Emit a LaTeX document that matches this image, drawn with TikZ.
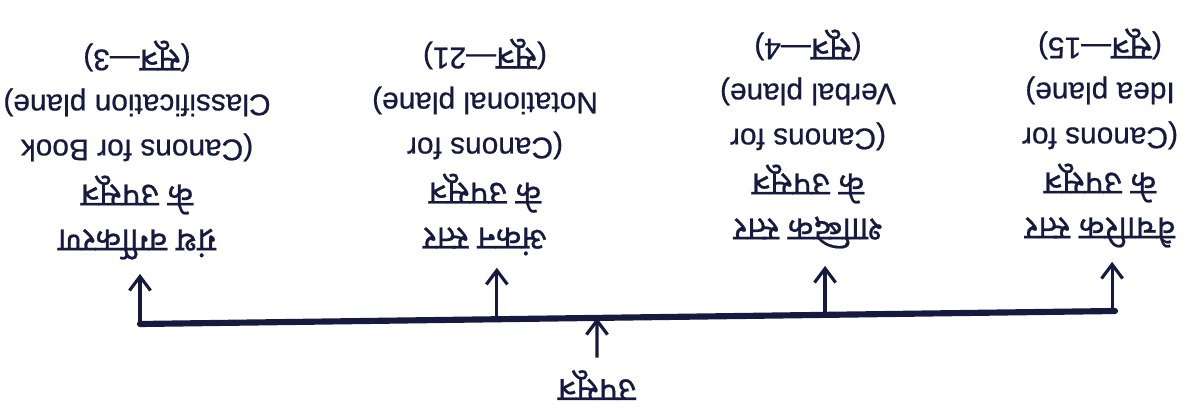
\documentclass[tikz,border=0pt]{standalone}
\usepackage{fontspec}
\setmainfont{Liberation Sans}[FakeBold=0.6]
\newfontfamily\deva{Noto Sans}[Script=Devanagari,FakeBold=0.6]
\usetikzlibrary{arrows.meta,calc}
\definecolor{InkBlue}{RGB}{22,26,62}
\newcommand\hinline[1]{{\deva\fontsize{19}{25.6}\selectfont #1}}

\begin{document}
\begin{tikzpicture}[
    canonbox/.style={
      rotate=180, % the whole sheet is upside down
      align=center,
      inner sep=0pt,
      text=InkBlue,
      font=\fontsize{17}{25.6}\selectfont
    },
    rootbox/.style={canonbox, font=\deva\fontsize{19}{22}\selectfont},
    bar/.style={draw=InkBlue, line width=3.5pt, line cap=round},
    arr/.style={-{Straight Barb[length=8pt,width=12pt,line width=1.8pt]}, draw=InkBlue, line width=1.8pt}
  ]
    \useasboundingbox (0,0) rectangle (23.94,8.14);

    % Nodes
    \node[rootbox] (sutra) at (11.94,0.44) {उपसूत्र};
    \node[canonbox] (book) at (2.74,5.14)
      {\hinline{ग्रंथ वर्गीकरण}\\\hinline{के उपसूत्र}\\(Canons for Book\\Classification plane)\\(\hinline{सूत्र}—3)};
    \node[canonbox] (notation) at (9.70,5.20)
      {\hinline{अंकन स्तर}\\\hinline{के उपसूत्र}\\(Canons for\\Notational plane)\\(\hinline{सूत्र}—21)};
    \node[canonbox] (verbal) at (16.16,5.36)
      {\hinline{शाब्दिक स्तर}\\\hinline{के उपसूत्र}\\(Canons for\\Verbal plane)\\(\hinline{सूत्र}—4)};
    \node[canonbox] (idea) at (22.00,5.38)
      {\hinline{वैचारिक स्तर}\\\hinline{के उपसूत्र}\\(Canons for\\Idea plane)\\(\hinline{सूत्र}—15)};

    % Bar and junctions
    \coordinate (barL) at (2.80,1.66);
    \coordinate (barR) at (22.30,1.92);
    \coordinate (j0) at ($(barL)!0.4687!(barR)$);
    \coordinate (j1) at (barL);
    \coordinate (j2) at ($(barL)!0.366!(barR)$);
    \coordinate (j3) at ($(barL)!0.7026!(barR)$);
    \coordinate (j4) at ($(barL)!0.997!(barR)$);
    \draw[bar] (barL) -- (barR);

    % Arrows
    \draw[arr, shorten <=0.24cm] (sutra.south) -- (j0);
    \draw[arr, shorten >=0.28cm] (j1) -- (j1 |- book.north);
    \draw[arr, shorten >=0.24cm] (j2) -- (j2 |- notation.north);
    \draw[arr, shorten >=0.34cm] (j3) -- (j3 |- verbal.north);
    \draw[arr, shorten >=0.28cm] (j4) -- (j4 |- idea.north);

  \end{tikzpicture}
\end{document}
